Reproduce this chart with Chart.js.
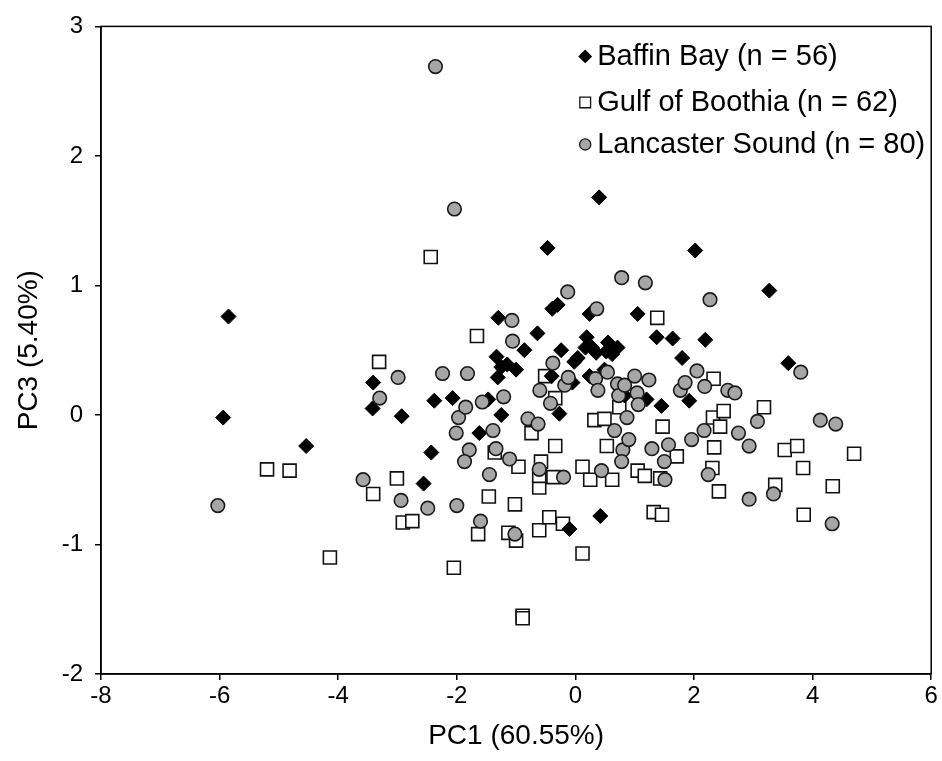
<!DOCTYPE html>
<html>
<head>
<meta charset="utf-8">
<script src="https://cdn.jsdelivr.net/npm/chart.js@4"></script>
<style>
  html, body { margin: 0; padding: 0; background: #fff; }
  #wrap { width: 942px; height: 761px; }
</style>
</head>
<body>
<div id="wrap"><canvas id="pca"></canvas></div>
<script>
// Axis ticks
const xTicks = [-8, -6, -4, -2, 0, 2, 4, 6];
const yTicks = [-2, -1, 0, 1, 2, 3];

// Series labels
const seriesNames = ['Baffin Bay (n = 56)', 'Gulf of Boothia (n = 62)', 'Lancaster Sound (n = 80)'];

// Baffin Bay scores [PC1, PC3]
const baffinBay = [
  [-5.85, 0.76], [-5.94, -0.02], [-4.54, -0.24], [-3.41, 0.25], [-3.42, 0.05],
  [-2.93, -0.01], [-2.38, 0.11], [-2.43, -0.29], [-2.56, -0.53], [-2.07, 0.13],
  [-1.62, -0.14], [-1.47, 0.12], [-1.30, 0.75], [-1.33, 0.45], [-1.31, 0.29],
  [-1.25, 0.37], [-1.25, 0.00], [-1.15, 0.39], [-1.00, 0.35], [-0.86, 0.50],
  [-0.64, 0.63], [-0.47, 1.29], [-0.40, 0.30], [-0.39, 0.82], [-0.30, 0.85],
  [-0.24, 0.50], [-0.27, 0.01], [-0.05, 0.25], [-0.02, 0.41], [0.04, 0.44],
  [-0.10, -0.88], [0.19, 0.60], [0.17, 0.52], [0.24, 0.30], [0.24, 0.78],
  [0.35, 0.48], [0.40, 1.68], [0.42, -0.78], [0.52, 0.49], [0.55, 0.56],
  [0.71, 0.52], [0.83, 0.15], [1.05, 0.78], [1.20, 0.12], [1.37, 0.60],
  [1.45, 0.07], [1.64, 0.59], [1.80, 0.44], [1.92, 0.11], [2.02, 1.27],
  [2.19, 0.58], [3.27, 0.96], [3.59, 0.40], [0.49, 0.35], [0.28, 0.52],
  [0.62, 0.47]
];

// Gulf of Boothia scores [PC1, PC3]
const gulfOfBoothia = [
  [-5.20, -0.42], [-4.82, -0.43], [-4.14, -1.10], [-3.41, -0.61], [-3.31, 0.41],
  [-3.01, -0.49], [-2.91, -0.83], [-2.75, -0.82], [-2.44, 1.22], [-2.05, -1.18],
  [-1.66, 0.61], [-1.64, -0.92], [-1.46, -0.63], [-1.36, -0.29], [-1.13, -0.91],
  [-1.02, -0.69], [-1.00, -0.97], [-0.96, -0.40], [-0.89, -1.55], [-0.89, -1.57],
  [-0.74, -0.14], [-0.61, -0.89], [-0.61, -0.56], [-0.58, -0.36], [-0.61, -0.47],
  [-0.51, 0.30], [-0.44, -0.79], [-0.34, 0.13], [-0.34, -0.24], [-0.37, -0.48],
  [-0.21, -0.84], [0.12, -0.40], [0.12, -1.07], [0.25, -0.50], [0.32, -0.04],
  [0.49, -0.03], [0.53, -0.24], [0.62, -0.50], [0.74, 0.06], [1.05, -0.43],
  [1.17, -0.47], [1.32, -0.75], [1.38, 0.75], [1.43, -0.49], [1.46, -0.77],
  [1.47, -0.09], [1.71, -0.32], [2.32, -0.02], [2.33, 0.28], [2.34, -0.25],
  [2.31, -0.41], [2.42, -0.59], [2.44, -0.09], [2.50, 0.03], [3.18, 0.06],
  [3.37, -0.54], [3.53, -0.27], [3.74, -0.24], [3.85, -0.77], [3.84, -0.41],
  [4.34, -0.55], [4.70, -0.30]
];

// Lancaster Sound scores [PC1, PC3]
const lancasterSound = [
  [-2.36, 2.69], [-2.04, 1.59], [-6.03, -0.70], [-3.58, -0.50], [-3.30, 0.13],
  [-2.99, 0.29], [-2.94, -0.66], [-2.49, -0.72], [-2.24, 0.32], [-2.00, -0.70],
  [-2.01, -0.14], [-1.97, -0.02], [-1.85, 0.06], [-1.82, 0.32], [-1.79, -0.27],
  [-1.87, -0.36], [-1.60, -0.82], [-1.57, 0.10], [-1.45, -0.46], [-1.39, -0.12],
  [-1.34, -0.26], [-1.21, 0.14], [-1.11, -0.34], [-1.07, 0.73], [-1.06, 0.57],
  [-1.02, -0.92], [-0.80, -0.03], [-0.63, -0.07], [-0.61, -0.42], [-0.60, 0.19],
  [-0.42, 0.09], [-0.38, 0.40], [-0.20, -0.48], [-0.18, 0.23], [-0.12, 0.29],
  [-0.13, 0.95], [0.36, 0.82], [0.34, 0.28], [0.38, 0.19], [0.44, -0.43],
  [0.54, 0.33], [0.66, -0.12], [0.71, 0.24], [0.78, 1.06], [0.73, 0.15],
  [0.80, -0.27], [0.78, -0.36], [0.83, 0.23], [0.87, -0.02], [0.90, -0.19],
  [1.00, 0.30], [1.04, 0.17], [1.06, 0.08], [1.18, 1.02], [1.24, 0.27],
  [1.29, -0.26], [1.50, -0.36], [1.51, -0.50], [1.57, -0.23], [1.77, 0.19],
  [1.85, 0.25], [1.96, -0.19], [2.05, 0.34], [2.17, -0.12], [2.18, 0.22],
  [2.24, -0.46], [2.27, 0.89], [2.57, 0.19], [2.69, 0.17], [2.75, -0.14],
  [2.93, -0.24], [2.93, -0.65], [3.07, -0.05], [3.34, -0.61], [3.80, 0.33],
  [4.13, -0.04], [4.39, -0.07], [4.33, -0.84]
];

const toPoints = arr => arr.map(p => ({ x: p[0], y: p[1] }));

// Plot frame (top and right edges)
const framePlugin = {
  id: 'frame',
  beforeDatasetsDraw(chart) {
    const { ctx, chartArea: a } = chart;
    ctx.save();
    ctx.strokeStyle = '#000';
    ctx.lineWidth = 1.5;
    ctx.strokeRect(a.left, a.top, a.right - a.left, a.bottom - a.top);
    ctx.restore();
  }
};

// Legend drawn inside the plot area, top right
const insideLegend = {
  id: 'insideLegend',
  afterDraw(chart) {
    const { ctx, chartArea: a } = chart;
    const rows = [30, 76, 118];
    const sizes = [6, 7.6, 5.6];
    ctx.save();
    ctx.font = '29px "Liberation Sans", Arial, sans-serif';
    ctx.textBaseline = 'middle';
    chart.data.datasets.forEach((ds, i) => {
      const y = a.top + rows[i];
      const x = a.right - 346;
      ctx.fillStyle = ds.backgroundColor;
      ctx.strokeStyle = ds.borderColor;
      ctx.lineWidth = 1.3;
      Chart.helpers.drawPoint(ctx, {
        pointStyle: ds.pointStyle,
        radius: sizes[i],
        borderWidth: 1.3,
        rotation: 0
      }, x, y);
      ctx.fillStyle = '#000';
      ctx.fillText(ds.label, x + 12, y + 1);
    });
    ctx.restore();
  }
};

const ctx = document.getElementById('pca').getContext('2d');
new Chart(ctx, {
  type: 'scatter',
  data: {
    datasets: [
      {
        label: seriesNames[0],
        data: toPoints(baffinBay),
        pointStyle: 'rectRot',
        pointRadius: 7.5,
        backgroundColor: '#000',
        borderColor: '#000',
        borderWidth: 1,
        order: 1
      },
      {
        label: seriesNames[1],
        data: toPoints(gulfOfBoothia),
        pointStyle: 'rect',
        pointRadius: 9.2,
        backgroundColor: '#fff',
        borderColor: '#111',
        borderWidth: 1.6,
        order: 2
      },
      {
        label: seriesNames[2],
        data: toPoints(lancasterSound),
        pointStyle: 'circle',
        pointRadius: 6.8,
        backgroundColor: '#a6a6a6',
        borderColor: '#1a1a1a',
        borderWidth: 1.6,
        order: 0
      }
    ]
  },
  options: {
    responsive: true,
    maintainAspectRatio: false,
    animation: false,
    events: [],
    layout: { padding: { top: 19, right: 10, left: 0, bottom: 0 } },
    plugins: {
      legend: { display: false },
      tooltip: { enabled: false }
    },
    scales: {
      x: {
        type: 'linear',
        min: -8,
        max: 6,
        afterBuildTicks: s => { s.ticks = xTicks.map(v => ({ value: v })); },
        afterFit: s => { s.height = 87; },
        grid: { drawOnChartArea: false, drawTicks: true, tickLength: 6, color: '#000', lineWidth: 1.5 },
        border: { display: true, color: '#000', width: 1.5 },
        ticks: {
          color: '#000',
          padding: 2,
          maxRotation: 0,
          font: { family: '"Liberation Sans", Arial, sans-serif', size: 24 }
        },
        title: {
          display: true,
          text: 'PC1 (60.55%)',
          color: '#000',
          padding: { top: 0, bottom: 8 },
          font: { family: '"Liberation Sans", Arial, sans-serif', size: 28 }
        }
      },
      y: {
        type: 'linear',
        min: -2,
        max: 3,
        afterBuildTicks: s => { s.ticks = yTicks.map(v => ({ value: v })); },
        afterFit: s => { s.width = 101; },
        grid: { drawOnChartArea: false, drawTicks: true, tickLength: 6, color: '#000', lineWidth: 1.5 },
        border: { display: true, color: '#000', width: 1.5 },
        ticks: {
          color: '#000',
          padding: 12,
          font: { family: '"Liberation Sans", Arial, sans-serif', size: 24 }
        },
        title: {
          display: true,
          text: 'PC3 (5.40%)',
          color: '#000',
          padding: { top: 12, bottom: 0 },
          font: { family: '"Liberation Sans", Arial, sans-serif', size: 28 }
        }
      }
    }
  },
  plugins: [framePlugin, insideLegend]
});
</script>
</body>
</html>
